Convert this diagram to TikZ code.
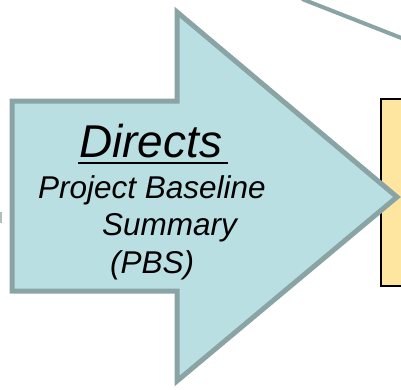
\documentclass[tikz,border=0pt]{standalone}
\usepackage{fontspec}
\setmainfont{Liberation Sans}
\definecolor{arrowfill}{RGB}{186,223,226}
\definecolor{arrowline}{RGB}{138,164,166}
\definecolor{boxfill}{RGB}{255,230,160}
\tikzset{
  txt/.style={inner sep=0pt, anchor=base west, font=\itshape},
}
\begin{document}
\begin{tikzpicture}[x=1pt,y=-1pt]
\useasboundingbox (0,0) rectangle (401,389);
\clip (0,0) rectangle (401,389);
% gray mark at left edge
\fill[arrowline!70] (0,212) rectangle (1.5,223);
% top line
\coordinate (l1) at (302,-1);
\coordinate (l2) at (404,39);
\draw[arrowline, line width=4] (l1) -- (l2);
% yellow box
\node[draw=black, fill=boxfill, line width=1.5, minimum width=40, minimum height=187, anchor=north west, inner sep=0pt] (box) at (380,98) {};
% big arrow
\draw[arrowline, fill=arrowfill, line width=5, line join=miter, miter limit=10]
  (12,101) -- (177,101) -- (177,12) -- (397,197) -- (177,381) -- (177,291) -- (12,291) -- cycle;
% texts
\node[txt, font=\itshape\fontsize{46}{46}\selectfont] (d) at (79,157) {Directs};
\draw[black, line width=2.5] (d.base west) ++(-1,6) -- ++(150,0);
\node[txt, font=\itshape\fontsize{31.5}{31.5}\selectfont] (p1) at (38,198) {Project Baseline};
\node[txt, font=\itshape\fontsize{31.5}{31.5}\selectfont] (p2) at (102,235) {Summary};
\node[txt, font=\itshape\fontsize{31.5}{31.5}\selectfont] (p3) at (110,273) {(PBS)};
\end{tikzpicture}
\end{document}
